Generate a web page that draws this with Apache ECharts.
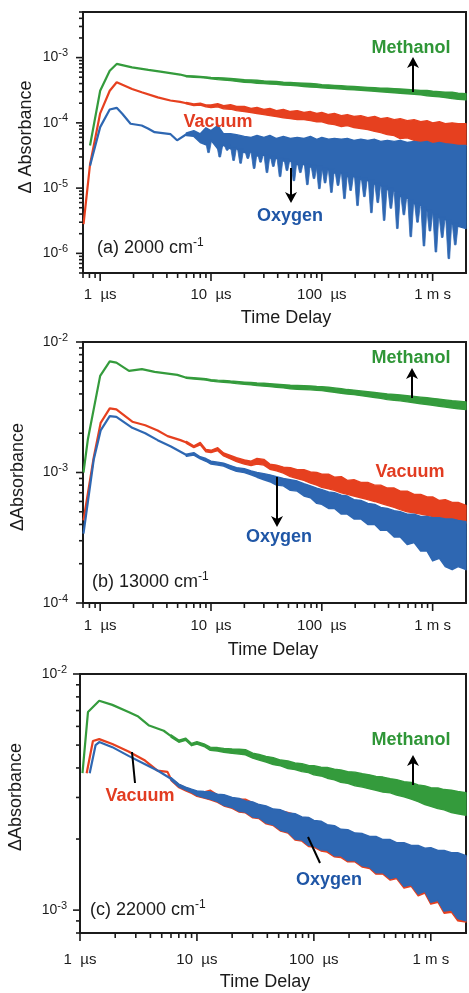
<!DOCTYPE html>
<html>
<head>
<meta charset="utf-8">
<script src="https://cdn.jsdelivr.net/npm/echarts@6/dist/echarts.min.js"></script>
<style>
  html, body { margin: 0; padding: 0; background: #fff; }
  #chart { width: 469px; height: 993px; }
</style>
</head>
<body>
<div id="chart"></div>
<script>
// time axis in microseconds, absorbance change on log scale
const xTickValues = [1, 10, 100, 1000];
const xTickLabels = ['1  µs', '10  µs', '100  µs', '1 m s'];
const tickMantissas = [1, 2, 3, 4, 5, 6, 7, 8, 9];

// noisy part of every trace is drawn as an envelope (upper / lower) on these times
const bandTimes = [6, 7, 8, 9, 10, 11.5, 13, 15, 17, 20, 23, 26, 30, 34, 39, 45, 52, 60, 69, 79, 90, 100, 115, 130, 150, 170, 195, 225, 260, 300, 340, 390, 450, 510, 590, 680, 780, 890, 1000, 1150, 1300, 1500, 1700, 2000];

// ---- (a) 2000 cm-1 ----
const methanolEarlyTimesA = [0.81, 1.0, 1.22, 1.41, 1.94, 2.72, 3.5, 5.26, 6];
const methanolEarlyA = [4.5e-5, 3.1e-4, 6.3e-4, 8.0e-4, 7.1e-4, 6.5e-4, 6.1e-4, 5.5e-4, 5.2e-4];
const vacuumEarlyTimesA = [0.708, 0.81, 1.0, 1.22, 1.41, 1.94, 2.37, 3.31, 4.3, 5.27, 6];
const vacuumEarlyA = [2.8e-6, 2.3e-5, 1.4e-4, 3.1e-4, 4.2e-4, 3.3e-4, 2.95e-4, 2.46e-4, 2.2e-4, 2.1e-4, 2.0e-4];
const oxygenEarlyTimesA = [0.81, 1.0, 1.22, 1.41, 1.59, 1.88, 2.37, 2.7, 3.1, 4.32, 4.94, 6];
const oxygenEarlyA = [2.2e-5, 8.6e-5, 1.6e-4, 1.7e-4, 1.37e-4, 9.7e-5, 9.1e-5, 8.2e-5, 7.2e-5, 6.7e-5, 5.4e-5, 6.7e-5];

const methanolHiA = [5.3e-4, 5.22e-4, 5.15e-4, 5.07e-4, 4.98e-4, 4.92e-4, 4.88e-4, 4.8e-4, 4.7e-4, 4.6e-4, 4.55e-4, 4.5e-4, 4.4e-4, 4.35e-4, 4.3e-4, 4.2e-4, 4.15e-4, 4.1e-4, 4.05e-4, 4.0e-4, 3.95e-4, 3.85e-4, 3.8e-4, 3.75e-4, 3.7e-4, 3.65e-4, 3.6e-4, 3.55e-4, 3.5e-4, 3.45e-4, 3.4e-4, 3.4e-4, 3.35e-4, 3.3e-4, 3.25e-4, 3.2e-4, 3.15e-4, 3.15e-4, 3.05e-4, 3.0e-4, 2.95e-4, 2.95e-4, 2.85e-4, 2.8e-4];
const methanolLoA = [5.1e-4, 5.0e-4, 4.93e-4, 4.84e-4, 4.74e-4, 4.6e-4, 4.52e-4, 4.44e-4, 4.32e-4, 4.2e-4, 4.15e-4, 4.05e-4, 4.0e-4, 3.95e-4, 3.9e-4, 3.8e-4, 3.75e-4, 3.7e-4, 3.6e-4, 3.55e-4, 3.5e-4, 3.45e-4, 3.4e-4, 3.35e-4, 3.3e-4, 3.25e-4, 3.2e-4, 3.15e-4, 3.1e-4, 3.05e-4, 3.0e-4, 2.95e-4, 2.9e-4, 2.85e-4, 2.8e-4, 2.75e-4, 2.7e-4, 2.6e-4, 2.55e-4, 2.5e-4, 2.45e-4, 2.35e-4, 2.3e-4, 2.25e-4];
const vacuumHiA = [2.05e-4, 1.95e-4, 2.0e-4, 1.88e-4, 1.88e-4, 1.96e-4, 1.84e-4, 1.9e-4, 1.78e-4, 1.78e-4, 1.66e-4, 1.72e-4, 1.6e-4, 1.66e-4, 1.54e-4, 1.6e-4, 1.49e-4, 1.54e-4, 1.44e-4, 1.49e-4, 1.39e-4, 1.44e-4, 1.34e-4, 1.39e-4, 1.29e-4, 1.34e-4, 1.25e-4, 1.29e-4, 1.2e-4, 1.25e-4, 1.16e-4, 1.2e-4, 1.12e-4, 1.16e-4, 1.08e-4, 1.12e-4, 1.04e-4, 1.08e-4, 1.0e-4, 1.04e-4, 9.7e-5, 1.0e-4, 9.7e-5, 9.7e-5];
const vacuumLoA = [1.95e-4, 1.84e-4, 1.88e-4, 1.76e-4, 1.72e-4, 1.76e-4, 1.64e-4, 1.62e-4, 1.54e-4, 1.49e-4, 1.44e-4, 1.39e-4, 1.34e-4, 1.29e-4, 1.25e-4, 1.2e-4, 1.16e-4, 1.12e-4, 1.12e-4, 1.08e-4, 1.04e-4, 1.04e-4, 9.7e-5, 9.4e-5, 8.8e-5, 9.1e-5, 8.5e-5, 8.2e-5, 7.9e-5, 7.4e-5, 7.1e-5, 6.6e-5, 6.4e-5, 5.75e-5, 5.9e-5, 5.4e-5, 5.0e-5, 5.2e-5, 4.8e-5, 5.0e-5, 4.65e-5, 4.8e-5, 4.5e-5, 4.5e-5];
const oxygenHiA = [7.0e-5, 7.6e-5, 6.8e-5, 8.4e-5, 7.6e-5, 9.1e-5, 6.8e-5, 6.8e-5, 6.6e-5, 6.2e-5, 6.0e-5, 6.4e-5, 6.0e-5, 6.4e-5, 5.75e-5, 6.2e-5, 5.75e-5, 6.0e-5, 5.75e-5, 6.2e-5, 5.6e-5, 6.0e-5, 5.6e-5, 5.75e-5, 5.6e-5, 5.75e-5, 5.4e-5, 5.6e-5, 5.4e-5, 5.6e-5, 5.2e-5, 5.4e-5, 5.2e-5, 5.4e-5, 5.0e-5, 5.2e-5, 5.0e-5, 5.2e-5, 4.8e-5, 5.0e-5, 4.8e-5, 4.65e-5, 4.5e-5, 4.5e-5];
const oxygenLoA = [6.4e-5, 6.2e-5, 5.0e-5, 4.6e-5, 5.4e-5, 4.0e-5, 4.5e-5, 4.0e-5, 4.0e-5, 3.5e-5, 3.6e-5, 3.1e-5, 3.2e-5, 2.9e-5, 2.85e-5, 2.6e-5, 2.6e-5, 2.3e-5, 2.3e-5, 2.1e-5, 2.1e-5, 1.9e-5, 1.9e-5, 1.7e-5, 1.7e-5, 1.5e-5, 1.5e-5, 1.35e-5, 1.3e-5, 1.15e-5, 1.1e-5, 9.5e-6, 9.0e-6, 7.5e-6, 7.0e-6, 5.8e-6, 5.4e-6, 4.5e-6, 4.2e-6, 3.5e-6, 3.3e-6, 2.8e-6, 2.6e-6, 2.4e-6];
// deep downward noise spikes of the oxygen trace: [time, from, to]
const oxygenSpikesA = [
  [9.5, 5.0e-5, 3.5e-5], [12, 4.3e-5, 3.0e-5], [14, 4.3e-5, 3.8e-5], [16, 4.0e-5, 2.65e-5],
  [18.5, 3.7e-5, 2.4e-5], [21.5, 3.5e-5, 2.85e-5], [24.5, 3.3e-5, 2.0e-5], [28, 3.2e-5, 2.5e-5],
  [32, 3.0e-5, 1.73e-5], [36.5, 2.9e-5, 2.15e-5], [42, 2.7e-5, 1.5e-5], [48.5, 2.6e-5, 1.86e-5],
  [56, 2.45e-5, 1.3e-5], [64, 2.3e-5, 1.73e-5], [74, 2.2e-5, 1.13e-5], [85, 2.1e-5, 1.4e-5],
  [95, 2.0e-5, 9.8e-6], [107, 1.9e-5, 1.2e-5], [122, 1.8e-5, 8.6e-6], [140, 1.7e-5, 1.1e-5],
  [160, 1.6e-5, 6.9e-6], [182, 1.5e-5, 9.2e-6], [210, 1.4e-5, 5.4e-6], [242, 1.32e-5, 7.4e-6],
  [280, 1.22e-5, 4.2e-6], [320, 1.12e-5, 6.0e-6], [365, 1.02e-5, 3.2e-6], [420, 9.2e-6, 4.9e-6],
  [480, 8.0e-6, 2.4e-6], [550, 7.2e-6, 3.9e-6], [635, 6.2e-6, 1.8e-6], [730, 5.6e-6, 3.0e-6],
  [835, 4.8e-6, 1.3e-6], [945, 4.3e-6, 2.2e-6], [1070, 3.8e-6, 1.05e-6], [1220, 3.4e-6, 1.75e-6],
  [1400, 3.0e-6, 8.3e-7], [1600, 2.7e-6, 1.35e-6]
];

// ---- (b) 13000 cm-1 ----
const methanolEarlyTimesB = [0.707, 0.775, 1.0, 1.22, 1.4, 1.82, 2.38, 3.1, 4.97, 6];
const methanolEarlyB = [1.0e-3, 1.8e-3, 5.5e-3, 7.1e-3, 6.95e-3, 6.0e-3, 6.2e-3, 5.9e-3, 5.6e-3, 5.32e-3];
const vacuumEarlyTimesB = [0.707, 0.874, 1.01, 1.22, 1.4, 1.95, 2.55, 3.3, 4.06, 5.3, 6];
const vacuumEarlyB = [4.3e-4, 1.3e-3, 2.4e-3, 3.1e-3, 3.05e-3, 2.45e-3, 2.3e-3, 2.1e-3, 1.9e-3, 1.77e-3, 1.7e-3];
const oxygenEarlyTimesB = [0.707, 0.874, 1.01, 1.22, 1.4, 1.95, 2.55, 3.3, 4.35, 6];
const oxygenEarlyB = [3.4e-4, 1.25e-3, 2.1e-3, 2.7e-3, 2.67e-3, 2.2e-3, 2.0e-3, 1.77e-3, 1.58e-3, 1.36e-3];

const methanolHiB = [5.38e-3, 5.33e-3, 5.28e-3, 5.23e-3, 5.15e-3, 5.1e-3, 5.08e-3, 5.02e-3, 4.98e-3, 4.93e-3, 4.9e-3, 4.86e-3, 4.83e-3, 4.79e-3, 4.74e-3, 4.7e-3, 4.66e-3, 4.64e-3, 4.62e-3, 4.6e-3, 4.56e-3, 4.55e-3, 4.5e-3, 4.45e-3, 4.38e-3, 4.32e-3, 4.28e-3, 4.22e-3, 4.16e-3, 4.1e-3, 4.05e-3, 4.0e-3, 3.97e-3, 3.93e-3, 3.88e-3, 3.83e-3, 3.78e-3, 3.74e-3, 3.7e-3, 3.65e-3, 3.6e-3, 3.55e-3, 3.52e-3, 3.48e-3];
const methanolLoB = [5.26e-3, 5.2e-3, 5.15e-3, 5.1e-3, 5.01e-3, 4.95e-3, 4.92e-3, 4.86e-3, 4.8e-3, 4.74e-3, 4.69e-3, 4.63e-3, 4.59e-3, 4.55e-3, 4.5e-3, 4.45e-3, 4.38e-3, 4.35e-3, 4.32e-3, 4.3e-3, 4.26e-3, 4.24e-3, 4.18e-3, 4.12e-3, 4.05e-3, 4.0e-3, 3.95e-3, 3.88e-3, 3.82e-3, 3.76e-3, 3.7e-3, 3.62e-3, 3.58e-3, 3.54e-3, 3.48e-3, 3.42e-3, 3.36e-3, 3.32e-3, 3.27e-3, 3.22e-3, 3.17e-3, 3.12e-3, 3.08e-3, 3.04e-3];
const vacuumHiB = [1.73e-3, 1.6e-3, 1.7e-3, 1.5e-3, 1.48e-3, 1.55e-3, 1.41e-3, 1.35e-3, 1.3e-3, 1.25e-3, 1.22e-3, 1.28e-3, 1.26e-3, 1.16e-3, 1.14e-3, 1.1e-3, 1.09e-3, 1.05e-3, 1.05e-3, 1.01e-3, 1.0e-3, 0.97e-3, 0.97e-3, 0.92e-3, 0.93e-3, 0.87e-3, 0.88e-3, 0.84e-3, 0.84e-3, 0.8e-3, 0.8e-3, 0.76e-3, 0.76e-3, 0.72e-3, 0.72e-3, 0.68e-3, 0.68e-3, 0.65e-3, 0.65e-3, 0.61e-3, 0.62e-3, 0.59e-3, 0.59e-3, 0.56e-3];
const vacuumLoB = [1.67e-3, 1.55e-3, 1.63e-3, 1.44e-3, 1.42e-3, 1.47e-3, 1.34e-3, 1.27e-3, 1.21e-3, 1.16e-3, 1.13e-3, 1.16e-3, 1.14e-3, 1.06e-3, 1.03e-3, 0.99e-3, 0.93e-3, 0.9e-3, 0.87e-3, 0.83e-3, 0.8e-3, 0.77e-3, 0.75e-3, 0.73e-3, 0.7e-3, 0.68e-3, 0.66e-3, 0.64e-3, 0.62e-3, 0.6e-3, 0.58e-3, 0.56e-3, 0.54e-3, 0.52e-3, 0.5e-3, 0.49e-3, 0.48e-3, 0.47e-3, 0.46e-3, 0.45e-3, 0.44e-3, 0.43e-3, 0.42e-3, 0.41e-3];
const oxygenHiB = [1.38e-3, 1.42e-3, 1.32e-3, 1.28e-3, 1.22e-3, 1.2e-3, 1.18e-3, 1.13e-3, 1.09e-3, 1.07e-3, 1.03e-3, 1.0e-3, 0.98e-3, 0.96e-3, 0.93e-3, 0.9e-3, 0.88e-3, 0.86e-3, 0.82e-3, 0.79e-3, 0.76e-3, 0.74e-3, 0.71e-3, 0.7e-3, 0.67e-3, 0.66e-3, 0.62e-3, 0.61e-3, 0.58e-3, 0.57e-3, 0.54e-3, 0.53e-3, 0.51e-3, 0.5e-3, 0.48e-3, 0.48e-3, 0.46e-3, 0.46e-3, 0.45e-3, 0.45e-3, 0.44e-3, 0.44e-3, 0.43e-3, 0.42e-3];
const oxygenLoB = [1.33e-3, 1.36e-3, 1.27e-3, 1.22e-3, 1.16e-3, 1.14e-3, 1.12e-3, 1.06e-3, 1.02e-3, 1.0e-3, 0.96e-3, 0.92e-3, 0.88e-3, 0.85e-3, 0.8e-3, 0.79e-3, 0.73e-3, 0.72e-3, 0.66e-3, 0.64e-3, 0.58e-3, 0.57e-3, 0.53e-3, 0.53e-3, 0.48e-3, 0.48e-3, 0.44e-3, 0.44e-3, 0.4e-3, 0.4e-3, 0.36e-3, 0.36e-3, 0.32e-3, 0.32e-3, 0.28e-3, 0.29e-3, 0.25e-3, 0.25e-3, 0.21e-3, 0.22e-3, 0.19e-3, 0.18e-3, 0.19e-3, 0.18e-3];

// ---- (c) 22000 cm-1 ----
const methanolEarlyTimesC = [1.05, 1.17, 1.46, 1.89, 2.6, 3.15, 3.9, 5.2, 6];
const methanolEarlyC = [3.8e-3, 6.9e-3, 7.7e-3, 7.4e-3, 6.9e-3, 6.6e-3, 6.05e-3, 5.75e-3, 5.46e-3];
const vacuumEarlyTimesC = [1.14, 1.29, 1.46, 1.89, 2.6, 3.6, 4.6, 5.6, 6];
const vacuumEarlyC = [3.8e-3, 5.2e-3, 5.3e-3, 5.05e-3, 4.7e-3, 4.3e-3, 3.9e-3, 3.85e-3, 3.58e-3];
const oxygenEarlyTimesC = [1.21, 1.36, 1.46, 1.89, 2.6, 3.6, 4.6, 6];
const oxygenEarlyC = [3.8e-3, 5.0e-3, 5.15e-3, 4.9e-3, 4.5e-3, 4.15e-3, 3.9e-3, 3.6e-3];

const methanolHiC = [5.52e-3, 5.25e-3, 5.35e-3, 5.08e-3, 5.17e-3, 5.06e-3, 4.9e-3, 4.88e-3, 4.84e-3, 4.81e-3, 4.8e-3, 4.78e-3, 4.62e-3, 4.56e-3, 4.48e-3, 4.42e-3, 4.32e-3, 4.28e-3, 4.2e-3, 4.17e-3, 4.1e-3, 4.09e-3, 4.03e-3, 4.02e-3, 3.95e-3, 3.92e-3, 3.86e-3, 3.84e-3, 3.78e-3, 3.74e-3, 3.68e-3, 3.66e-3, 3.6e-3, 3.57e-3, 3.5e-3, 3.47e-3, 3.39e-3, 3.36e-3, 3.3e-3, 3.29e-3, 3.24e-3, 3.22e-3, 3.18e-3, 3.14e-3];
const methanolLoC = [5.4e-3, 5.14e-3, 5.24e-3, 4.97e-3, 5.05e-3, 4.93e-3, 4.75e-3, 4.72e-3, 4.66e-3, 4.61e-3, 4.58e-3, 4.55e-3, 4.4e-3, 4.32e-3, 4.24e-3, 4.13e-3, 4.08e-3, 3.98e-3, 3.94e-3, 3.86e-3, 3.82e-3, 3.74e-3, 3.7e-3, 3.62e-3, 3.56e-3, 3.48e-3, 3.44e-3, 3.36e-3, 3.32e-3, 3.26e-3, 3.22e-3, 3.16e-3, 3.14e-3, 3.07e-3, 3.02e-3, 2.95e-3, 2.88e-3, 2.8e-3, 2.75e-3, 2.69e-3, 2.66e-3, 2.59e-3, 2.56e-3, 2.52e-3];
const vacuumHiC = [3.62e-3, 3.41e-3, 3.3e-3, 3.23e-3, 3.18e-3, 3.17e-3, 3.22e-3, 3.08e-3, 3.06e-3, 2.98e-3, 2.95e-3, 2.95e-3, 2.85e-3, 2.78e-3, 2.74e-3, 2.66e-3, 2.64e-3, 2.59e-3, 2.54e-3, 2.46e-3, 2.45e-3, 2.38e-3, 2.36e-3, 2.28e-3, 2.26e-3, 2.18e-3, 2.17e-3, 2.1e-3, 2.09e-3, 2.03e-3, 2.03e-3, 1.97e-3, 1.97e-3, 1.91e-3, 1.91e-3, 1.86e-3, 1.86e-3, 1.81e-3, 1.82e-3, 1.77e-3, 1.77e-3, 1.73e-3, 1.73e-3, 1.68e-3];
const vacuumLoC = [3.54e-3, 3.3e-3, 3.2e-3, 3.12e-3, 3.03e-3, 2.98e-3, 2.93e-3, 2.86e-3, 2.76e-3, 2.7e-3, 2.6e-3, 2.58e-3, 2.46e-3, 2.44e-3, 2.32e-3, 2.28e-3, 2.16e-3, 2.12e-3, 1.98e-3, 1.96e-3, 1.86e-3, 1.85e-3, 1.78e-3, 1.76e-3, 1.68e-3, 1.67e-3, 1.6e-3, 1.6e-3, 1.52e-3, 1.5e-3, 1.42e-3, 1.42e-3, 1.34e-3, 1.36e-3, 1.24e-3, 1.26e-3, 1.15e-3, 1.18e-3, 1.06e-3, 1.08e-3, 0.97e-3, 0.98e-3, 0.9e-3, 0.89e-3];
const oxygenHiC = [3.64e-3, 3.42e-3, 3.32e-3, 3.25e-3, 3.2e-3, 3.18e-3, 3.17e-3, 3.1e-3, 3.08e-3, 3.0e-3, 2.97e-3, 2.9e-3, 2.87e-3, 2.8e-3, 2.76e-3, 2.68e-3, 2.66e-3, 2.58e-3, 2.56e-3, 2.48e-3, 2.47e-3, 2.4e-3, 2.38e-3, 2.3e-3, 2.28e-3, 2.2e-3, 2.19e-3, 2.12e-3, 2.11e-3, 2.05e-3, 2.05e-3, 1.99e-3, 1.99e-3, 1.93e-3, 1.93e-3, 1.88e-3, 1.88e-3, 1.83e-3, 1.84e-3, 1.79e-3, 1.79e-3, 1.75e-3, 1.75e-3, 1.7e-3];
const oxygenLoC = [3.56e-3, 3.33e-3, 3.23e-3, 3.15e-3, 3.06e-3, 3.0e-3, 2.95e-3, 2.88e-3, 2.78e-3, 2.72e-3, 2.62e-3, 2.6e-3, 2.48e-3, 2.46e-3, 2.34e-3, 2.3e-3, 2.18e-3, 2.14e-3, 2.0e-3, 1.98e-3, 1.88e-3, 1.87e-3, 1.8e-3, 1.79e-3, 1.7e-3, 1.7e-3, 1.62e-3, 1.62e-3, 1.54e-3, 1.52e-3, 1.44e-3, 1.44e-3, 1.36e-3, 1.38e-3, 1.26e-3, 1.28e-3, 1.17e-3, 1.2e-3, 1.08e-3, 1.1e-3, 0.99e-3, 1.0e-3, 0.92e-3, 0.9e-3];

const GREEN = '#349b3c';
const RED = '#e6401f';
const BLUE = '#2e67b2';
const INK = '#1b1b1b';
const FONT = '"Liberation Sans", Arial, sans-serif';

const panels = [
  {
    grid: { left: 83, top: 12, width: 398, height: 261 },
    xMin: 0.7, yMin: 5e-7, yMax: 5e-3, xMargin: 14, yMargin: 15,
    traces: [
      [methanolEarlyTimesA, methanolEarlyA, methanolHiA, methanolLoA, GREEN, null],
      [vacuumEarlyTimesA, vacuumEarlyA, vacuumHiA, vacuumLoA, RED, null],
      [oxygenEarlyTimesA, oxygenEarlyA, oxygenHiA, oxygenLoA, BLUE, oxygenSpikesA]
    ]
  },
  {
    grid: { left: 83, top: 342, width: 398, height: 261 },
    xMin: 0.7, yMin: 1e-4, yMax: 1e-2, xMargin: 15, yMargin: 15,
    traces: [
      [methanolEarlyTimesB, methanolEarlyB, methanolHiB, methanolLoB, GREEN, null],
      [vacuumEarlyTimesB, vacuumEarlyB, vacuumHiB, vacuumLoB, RED, null],
      [oxygenEarlyTimesB, oxygenEarlyB, oxygenHiB, oxygenLoB, BLUE, null]
    ]
  },
  {
    grid: { left: 80, top: 674, width: 398, height: 259 },
    xMin: 1, yMin: 8e-4, yMax: 1e-2, xMargin: 19, yMargin: 13,
    traces: [
      [methanolEarlyTimesC, methanolEarlyC, methanolHiC, methanolLoC, GREEN, null],
      [vacuumEarlyTimesC, vacuumEarlyC, vacuumHiC, vacuumLoC, RED, null],
      [oxygenEarlyTimesC, oxygenEarlyC, oxygenHiC, oxygenLoC, BLUE, null]
    ]
  }
];

function xLabel(v) {
  const k = xTickValues.findIndex(d => Math.abs(d - v) / d < 1e-6);
  return k >= 0 ? xTickLabels[k] : '';
}

function yLabel(v) {
  const lg = Math.log10(v);
  const e = Math.round(lg);
  if (Math.abs(lg - e) > 1e-6) return '';
  return '{b|10}{s|' + e + '}';
}

// tick marks (major at decades, minor at 2..9) drawn through the axes
function tickData(p) {
  const out = [];
  for (let e = -8; e <= 4; e++) {
    for (const m of tickMantissas) {
      const v = m * Math.pow(10, e);
      const len = m === 1 ? 7 : 4;
      if (v >= p.xMin * 0.9999 && v < 2000) out.push([v, p.yMin, 0, len + 1]);
      if (v >= p.yMin * 0.9999 && v <= p.yMax * 1.0001) out.push([p.xMin, v, 1, len]);
    }
  }
  return out;
}

const series = [];
panels.forEach((p, i) => {
  series.push({
    type: 'custom',
    xAxisIndex: i,
    yAxisIndex: i,
    silent: true,
    z: 10,
    data: tickData(p),
    renderItem: function (params, api) {
      const pt = api.coord([api.value(0), api.value(1)]);
      const len = api.value(3);
      const shape = api.value(2) === 0
        ? { x1: pt[0], y1: pt[1], x2: pt[0], y2: pt[1] + len }
        : { x1: pt[0] - len, y1: pt[1], x2: pt[0], y2: pt[1] };
      return { type: 'line', shape: shape, style: { stroke: INK, lineWidth: 1.6 } };
    }
  });
  p.traces.forEach((tr, k) => {
    const [ts, vs, hi, lo, color, spikes] = tr;
    series.push({
      type: 'line',
      xAxisIndex: i,
      yAxisIndex: i,
      z: 3 + k,
      symbol: 'none',
      silent: true,
      lineStyle: { color: color, width: 2.2 },
      data: ts.map((t, j) => [t, vs[j]])
    });
    series.push({
      type: 'custom',
      xAxisIndex: i,
      yAxisIndex: i,
      z: 3 + k,
      silent: true,
      data: [[bandTimes[0], hi[0]]],
      renderItem: function (params, api) {
        const pts = [];
        for (let j = 0; j < bandTimes.length; j++) pts.push(api.coord([bandTimes[j], hi[j]]));
        for (let j = bandTimes.length - 1; j >= 0; j--) pts.push(api.coord([bandTimes[j], lo[j]]));
        return { type: 'polygon', shape: { points: pts }, style: { fill: color, stroke: color, lineWidth: 1.4, lineJoin: 'round' } };
      }
    });
    if (spikes) {
      // each spike is a narrow wedge hanging from the solid part of the band
      series.push({
        type: 'custom',
        xAxisIndex: i,
        yAxisIndex: i,
        z: 3 + k,
        silent: true,
        data: spikes,
        renderItem: function (params, api) {
          const a = api.coord([api.value(0), api.value(1)]);
          const b = api.coord([api.value(0), api.value(2)]);
          return {
            type: 'polygon',
            shape: { points: [[a[0] - 3, a[1] - 2], [a[0] + 3, a[1] - 2], [b[0] + 0.8, b[1]], [b[0] - 0.8, b[1]]] },
            style: { fill: color, stroke: color, lineWidth: 0.8 }
          };
        }
      });
    }
  });
});

const notes = [
  { text: 'Methanol', x: 411, y: 48, color: '#2f9637' },
  { text: 'Vacuum', x: 218, y: 122, color: '#e23c21' },
  { text: 'Oxygen', x: 290, y: 216, color: '#1f56a6' },
  { text: 'Methanol', x: 411, y: 358, color: '#2f9637' },
  { text: 'Vacuum', x: 410, y: 472, color: '#e23c21' },
  { text: 'Oxygen', x: 279, y: 537, color: '#1f56a6' },
  { text: 'Methanol', x: 411, y: 740, color: '#2f9637' },
  { text: 'Vacuum', x: 140, y: 796, color: '#e23c21' },
  { text: 'Oxygen', x: 329, y: 880, color: '#1f56a6' }
];
const arrows = [
  [413, 92, 57], [291, 168, 203],
  [412, 398, 368], [277, 477, 527],
  [413, 785, 755]
];
const pointers = [
  [135, 783, 132, 752],
  [320, 863, 308, 837]
];
const panelTags = [
  { text: '(a) 2000 cm{s|-1}', x: 97, y: 248 },
  { text: '(b) 13000 cm{s|-1}', x: 92, y: 582 },
  { text: '(c) 22000 cm{s|-1}', x: 90, y: 910 }
];
const axisTitles = [
  { text: 'Time Delay', x: 286, y: 318, rot: 0 },
  { text: 'Time Delay', x: 273, y: 650, rot: 0 },
  { text: 'Time Delay', x: 265, y: 982, rot: 0 },
  { text: 'Δ Absorbance', x: 26, y: 137, rot: Math.PI / 2 },
  { text: 'ΔAbsorbance', x: 18, y: 477, rot: Math.PI / 2 },
  { text: 'ΔAbsorbance', x: 16, y: 797, rot: Math.PI / 2 }
];

const graphics = [];
notes.forEach(n => graphics.push({
  type: 'text', x: n.x, y: n.y, z: 100,
  style: { text: n.text, fill: n.color, font: 'bold 18px ' + FONT, align: 'center', verticalAlign: 'middle' }
}));
arrows.forEach(([x, y1, y2]) => {
  const dir = y2 < y1 ? 1 : -1;
  graphics.push({ type: 'line', z: 100, shape: { x1: x, y1: y1, x2: x, y2: y2 + dir * 6 }, style: { stroke: '#000', lineWidth: 2 } });
  graphics.push({
    type: 'polygon', z: 100,
    shape: { points: [[x, y2], [x - 6, y2 + dir * 11], [x, y2 + dir * 8], [x + 6, y2 + dir * 11]] },
    style: { fill: '#000' }
  });
});
pointers.forEach(([x1, y1, x2, y2]) => graphics.push({
  type: 'line', z: 100, shape: { x1, y1, x2, y2 }, style: { stroke: '#000', lineWidth: 2 }
}));
panelTags.forEach(t => graphics.push({
  type: 'text', x: t.x, y: t.y, z: 100,
  style: {
    text: t.text, fill: INK, font: '18px ' + FONT, align: 'left', verticalAlign: 'middle', lineHeight: 22,
    rich: { s: { fontSize: 12, fontFamily: FONT, fill: INK, lineHeight: 10, verticalAlign: 'top' } }
  }
}));
axisTitles.forEach(t => graphics.push({
  type: 'text', x: t.x, y: t.y, rotation: t.rot, z: 100,
  style: { text: t.text, fill: INK, font: '18px ' + FONT, align: 'center', verticalAlign: 'middle' }
}));

const option = {
  animation: false,
  backgroundColor: '#fff',
  grid: panels.map(p => Object.assign({ show: true, borderColor: INK, borderWidth: 2, backgroundColor: 'transparent' }, p.grid)),
  xAxis: panels.map((p, i) => ({
    type: 'log', gridIndex: i, min: p.xMin, max: 2000, logBase: 10,
    axisLine: { show: true, onZero: false, lineStyle: { color: INK, width: 2 } },
    axisTick: { show: false },
    splitLine: { show: false },
    axisLabel: { formatter: xLabel, fontSize: 15, fontFamily: FONT, color: INK, margin: p.xMargin }
  })),
  yAxis: panels.map((p, i) => ({
    type: 'log', gridIndex: i, min: p.yMin, max: p.yMax, logBase: 10,
    axisLine: { show: true, onZero: false, lineStyle: { color: INK, width: 2 } },
    axisTick: { show: false },
    splitLine: { show: false },
    axisLabel: {
      formatter: yLabel, margin: p.yMargin,
      rich: {
        b: { fontSize: 14, fontFamily: FONT, color: INK, lineHeight: 20 },
        s: { fontSize: 11, fontFamily: FONT, color: INK, lineHeight: 8, verticalAlign: 'top' }
      }
    }
  })),
  series: series,
  graphic: graphics
};

const chart = echarts.init(document.getElementById('chart'));
chart.setOption(option);
</script>
</body>
</html>
